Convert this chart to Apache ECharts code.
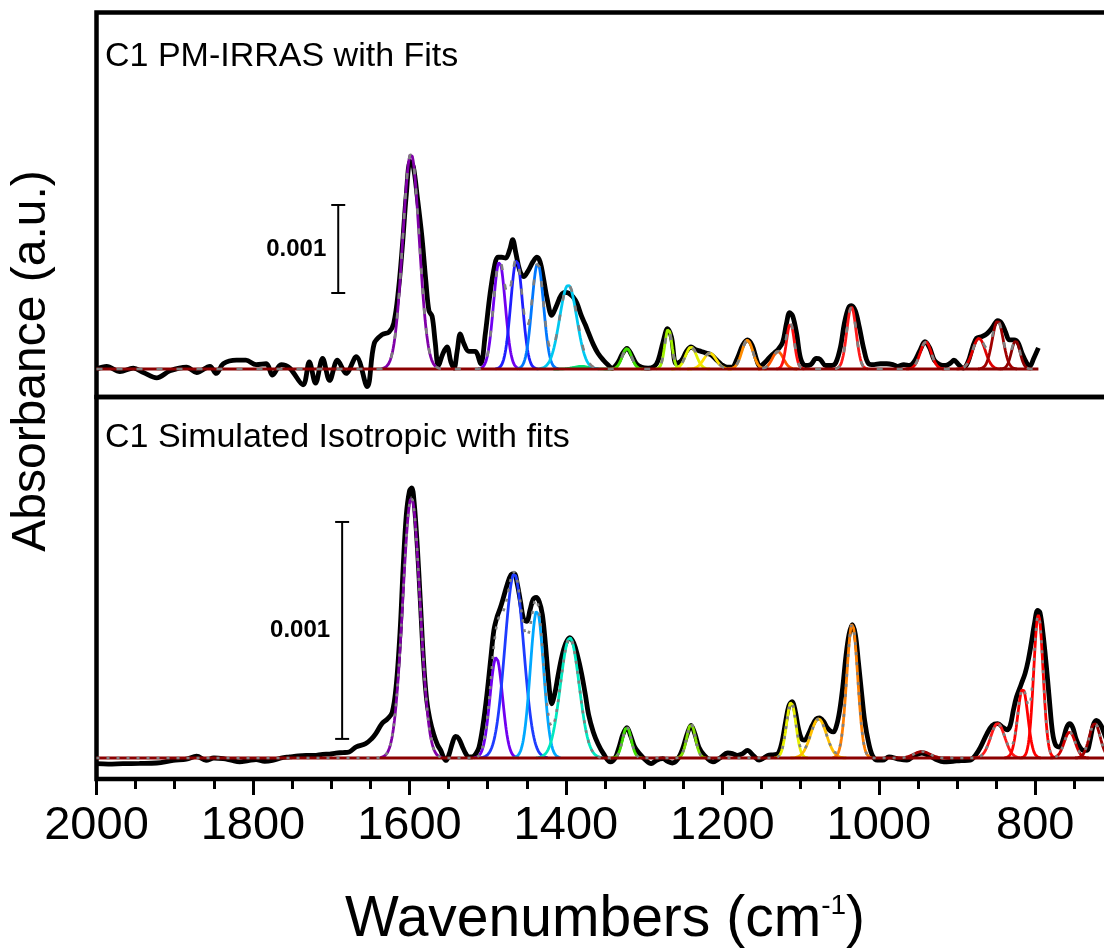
<!DOCTYPE html>
<html>
<head>
<meta charset="utf-8">
<script src="https://cdn.jsdelivr.net/npm/echarts@6/dist/echarts.min.js"></script>
<style>
html,body{margin:0;padding:0;background:#fff;}
#chart{width:1104px;height:949px;}
</style>
</head>
<body>
<div id="chart"></div>
<script>
// ---------------- DATA (absorbance in units of 0.001) ----------------
const panelTitles = ['C1 PM-IRRAS with Fits', 'C1 Simulated Isotropic with fits'];
const xAxisTitle = 'Wavenumbers (cm{sup|-1})';
const yAxisTitle = 'Absorbance (a.u.)';
const xTickValues = [2000, 1800, 1600, 1400, 1200, 1000, 800];
const xMinorTickValues = [1950,1900,1850,1750,1700,1650,1550,1500,1450,1350,1300,1250,1150,1100,1050,950,900,850,750];
const scaleBarLabel = '0.001';
const topScaleBar = [[1691, 0.864, 1.864]];
const bottomScaleBar = [[1686, 0.088, 1.088]];

// measured PM-IRRAS spectrum [wavenumber, absorbance]
const topSpectrum = [
[2000,0.00],[1987,0.03],[1970,-0.03],[1953,0.01],[1940,-0.04],[1923,-0.10],[1906,-0.02],[1885,0.02],[1872,-0.04],[1855,0.03],[1847,-0.05],[1838,0.06],[1821,0.10],[1809,0.10],[1796,0.05],[1783,0.06],[1775,-0.07],[1764,0.05],[1753,0.01],[1736,-0.18],[1728,0.08],[1720,-0.16],[1711,0.12],[1702,-0.13],[1692,0.10],[1681,-0.05],[1668,0.14],[1654,-0.20],[1645,0.29],[1635,0.39],[1626,0.42],[1620,0.52],[1614,0.90],[1609,1.40],[1604,1.98],[1599,2.36],[1595,2.30],[1590,1.96],[1584,1.50],[1579,1.00],[1575,0.66],[1571,0.60],[1567,0.30],[1563,0.04],[1557,0.18],[1552,0.25],[1547,0.08],[1543,0.01],[1539,0.20],[1535,0.40],[1530,0.28],[1524,0.20],[1516,0.20],[1509,0.06],[1503,0.40],[1497,0.85],[1491,1.18],[1487,1.27],[1482,1.27],[1477,1.26],[1472,1.35],[1468,1.47],[1464,1.32],[1459,1.12],[1454,1.05],[1448,1.12],[1442,1.22],[1437,1.27],[1433,1.22],[1429,1.05],[1424,0.80],[1418,0.61],[1412,0.72],[1406,0.84],[1401,0.87],[1396,0.86],[1391,0.82],[1386,0.75],[1380,0.60],[1375,0.50],[1371,0.41],[1365,0.28],[1359,0.18],[1352,0.10],[1346,0.045],[1341,0.01],[1333,0.08],[1328,0.17],[1322,0.235],[1316,0.16],[1310,0.06],[1303,0.02],[1295,0.01],[1287,0.03],[1282,0.10],[1276,0.30],[1270,0.46],[1265,0.36],[1259,0.06],[1252,0.10],[1246,0.20],[1240,0.25],[1234,0.22],[1227,0.20],[1220,0.18],[1214,0.16],[1207,0.10],[1201,0.05],[1194,0.02],[1188,0.02],[1181,0.12],[1174,0.27],[1168,0.33],[1162,0.27],[1156,0.10],[1152,0.03],[1146,0.07],[1140,0.13],[1134,0.18],[1129,0.22],[1123,0.30],[1118,0.52],[1114,0.64],[1110,0.60],[1105,0.40],[1100,0.12],[1094,0.04],[1087,0.05],[1080,0.12],[1075,0.11],[1068,0.04],[1060,0.04],[1055,0.07],[1049,0.25],[1044,0.52],[1039,0.69],[1035,0.72],[1030,0.66],[1025,0.48],[1019,0.22],[1013,0.06],[1006,0.05],[998,0.06],[990,0.06],[982,0.05],[976,0.03],[968,0.05],[961,0.04],[955,0.08],[948,0.20],[941,0.31],[935,0.24],[929,0.10],[922,0.05],[915,0.04],[908,0.07],[904,0.10],[898,0.05],[892,0.01],[886,0.08],[880,0.25],[875,0.35],[868,0.37],[862,0.40],[855,0.47],[848,0.55],[843,0.52],[838,0.42],[833,0.33],[827,0.33],[822,0.30],[817,0.18],[811,0.07],[807,0.03],[802,0.12],[796,0.24]
];
// simulated isotropic spectrum
const bottomSpectrum = [
[2000,-0.026],[1985,-0.028],[1966,-0.026],[1945,-0.025],[1923,-0.023],[1902,-0.011],[1885,-0.005],[1872,0.008],[1860,-0.011],[1850,0.0],[1838,-0.003],[1828,-0.01],[1817,-0.018],[1806,-0.012],[1796,-0.007],[1785,-0.015],[1775,-0.011],[1764,0.0],[1753,0.005],[1742,0.01],[1732,0.012],[1722,0.012],[1711,0.017],[1702,0.018],[1694,0.023],[1685,0.025],[1677,0.028],[1668,0.051],[1656,0.066],[1648,0.09],[1643,0.112],[1635,0.159],[1628,0.18],[1622,0.21],[1617,0.33],[1612,0.58],[1608,0.88],[1604,1.12],[1600,1.23],[1597,1.245],[1594,1.18],[1590,0.98],[1586,0.72],[1582,0.45],[1578,0.27],[1574,0.18],[1569,0.11],[1564,0.06],[1560,0.035],[1556,0.0],[1553,-0.011],[1549,0.02],[1545,0.07],[1541,0.10],[1537,0.09],[1532,0.05],[1528,0.02],[1524,0.005],[1520,0.005],[1515,0.02],[1511,0.05],[1506,0.15],[1501,0.29],[1496,0.46],[1492,0.59],[1488,0.65],[1484,0.69],[1479,0.75],[1475,0.80],[1470,0.845],[1466,0.85],[1462,0.80],[1458,0.72],[1454,0.64],[1450,0.63],[1446,0.68],[1442,0.73],[1438,0.74],[1434,0.72],[1430,0.66],[1426,0.52],[1422,0.35],[1418,0.25],[1414,0.30],[1410,0.38],[1405,0.47],[1400,0.53],[1395,0.555],[1390,0.53],[1385,0.47],[1380,0.39],[1375,0.29],[1371,0.20],[1365,0.12],[1359,0.066],[1352,0.02],[1343,-0.018],[1337,0.0],[1332,0.05],[1327,0.11],[1322,0.14],[1317,0.10],[1312,0.05],[1306,0.02],[1298,-0.01],[1291,-0.026],[1284,-0.01],[1276,-0.003],[1270,-0.015],[1264,-0.023],[1257,-0.005],[1251,0.04],[1245,0.11],[1240,0.15],[1235,0.11],[1230,0.05],[1223,0.012],[1212,-0.018],[1203,0.0],[1193,0.023],[1187,0.02],[1181,0.012],[1174,0.02],[1168,0.035],[1160,0.01],[1153,-0.01],[1147,0.0],[1142,0.012],[1135,0.015],[1129,0.02],[1124,0.07],[1119,0.17],[1115,0.24],[1111,0.26],[1107,0.22],[1103,0.14],[1099,0.09],[1095,0.082],[1090,0.11],[1085,0.15],[1080,0.18],[1076,0.185],[1071,0.17],[1066,0.14],[1062,0.125],[1058,0.12],[1054,0.15],[1050,0.22],[1046,0.33],[1042,0.47],[1038,0.57],[1034,0.615],[1030,0.57],[1026,0.44],[1022,0.30],[1018,0.17],[1013,0.07],[1008,0.01],[1002,-0.01],[995,-0.01],[987,0.005],[975,-0.005],[964,-0.01],[955,0.01],[945,0.023],[935,0.01],[925,-0.01],[917,-0.018],[905,-0.015],[895,-0.012],[883,-0.01],[876,0.015],[870,0.05],[862,0.11],[855,0.15],[848,0.158],[841,0.14],[836,0.13],[832,0.15],[828,0.22],[824,0.281],[818,0.34],[813,0.39],[809,0.45],[805,0.53],[801,0.62],[797,0.68],[794,0.67],[790,0.57],[786,0.43],[782,0.27],[778,0.12],[774,0.06],[769,0.05],[764,0.09],[760,0.14],[756,0.158],[752,0.14],[748,0.09],[743,0.05],[738,0.035],[734,0.035],[730,0.08],[726,0.15],[722,0.173],[716,0.15],[708,0.08],[700,0.05]
];

// fitted Gaussian components: centre, height, sigma
const topPeakCenters = [1598, 1380, 1485, 1463, 1436, 1397, 1322, 1269, 1240, 1216, 1168, 1129, 1113, 1035, 940, 872, 848, 825];
const topPeakHeights = [2.45, 0.03, 1.22, 1.24, 1.20, 0.955, 0.235, 0.46, 0.25, 0.18, 0.33, 0.20, 0.52, 0.705, 0.31, 0.35, 0.55, 0.32];
const topPeakSigmas  = [10.5, 10, 7.5, 7.5, 7.5, 11, 6, 4.5, 7, 8, 7, 7, 5, 6, 7, 8, 7, 5.5];
const topFitEnd = 796;

const bottomPeakCenters = [1597.5, 1489, 1466, 1437, 1395, 1322, 1240, 1112, 1077, 1034, 945, 848, 816, 796, 756, 724];
const bottomPeakHeights = [1.20, 0.465, 0.85, 0.68, 0.555, 0.143, 0.156, 0.258, 0.181, 0.619, 0.03, 0.16, 0.32, 0.66, 0.12, 0.16];
const bottomPeakSigmas  = [11, 8, 12, 8.5, 12, 5.5, 5.5, 6, 10, 7, 10, 9, 6.5, 6, 7, 7];
const bottomFitEnd = 700;

// ---------------- STYLE ----------------
const topPeakColors = ['#8000A8','#00E070','#7000F0','#1E1EFF','#0078FF','#00C8F0','#40E000','#A0F000','#E0F000','#FFE000','#FF8C00','#FF5A00','#FF1010','#FF1A1A','#F00000','#E00000','#A00000','#8C0000'];
const bottomPeakColors = ['#8000A8','#7000F0','#1E3CFF','#00A8FF','#00E8C0','#40E000','#80E000','#E8F000','#FFC000','#FF7F00','#A00000','#FF1A1A','#FF0000','#FF0000','#D00000','#A00000'];
const FONT = '"Liberation Sans", Arial, sans-serif';

function gaussPoints(c, h, s) {
  const pts = [];
  for (let x = c + 3.6 * s; x >= c - 3.6 * s; x -= 0.5) {
    pts.push([x, h * Math.exp(-((x - c) * (x - c)) / (2 * s * s))]);
  }
  return pts;
}
function fitSum(centers, heights, sigmas, xEnd) {
  const pts = [];
  for (let x = 2000; x >= xEnd; x -= 1) {
    let y = 0;
    for (let i = 0; i < centers.length; i++) {
      y += heights[i] * Math.exp(-((x - centers[i]) ** 2) / (2 * sigmas[i] ** 2));
    }
    pts.push([x, y]);
  }
  return pts;
}

function scaleBarRender(params, api) {
  const x = api.value(0);
  const p0 = api.coord([x, api.value(1)]);
  const p1 = api.coord([x, api.value(2)]);
  const st = { stroke: '#000', lineWidth: 2 };
  return {
    type: 'group',
    children: [
      { type: 'line', shape: { x1: p0[0], y1: p0[1], x2: p1[0], y2: p1[1] }, style: st },
      { type: 'line', shape: { x1: p0[0] - 7, y1: p0[1], x2: p0[0] + 7, y2: p0[1] }, style: st },
      { type: 'line', shape: { x1: p1[0] - 7, y1: p1[1], x2: p1[0] + 7, y2: p1[1] }, style: st },
      { type: 'text', style: { text: scaleBarLabel, x: p0[0] - 12, y: (p0[1] + p1[1]) / 2,
          align: 'right', verticalAlign: 'middle', fill: '#000',
          font: 'bold 24px "Liberation Sans", Arial, sans-serif' } }
    ]
  };
}

function panelSeries(idx, spectrum, centers, heights, sigmas, colors, fitEnd, bar, dash) {
  const s = [];
  s.push({ type: 'line', xAxisIndex: idx, yAxisIndex: idx, data: spectrum, showSymbol: false,
    smooth: 0.35, lineStyle: { color: '#000', width: 4.8 }, z: 2, silent: true });
  for (let i = 0; i < centers.length; i++) {
    s.push({ type: 'line', xAxisIndex: idx, yAxisIndex: idx, data: gaussPoints(centers[i], heights[i], sigmas[i]),
      showSymbol: false, lineStyle: { color: colors[i], width: 2.8 }, z: 3, silent: true });
  }
  s.push({ type: 'line', xAxisIndex: idx, yAxisIndex: idx, data: [[2000, 0], [fitEnd, 0]], showSymbol: false,
    lineStyle: { color: '#8B0000', width: 3.2 }, z: 4, silent: true });
  s.push({ type: 'line', xAxisIndex: idx, yAxisIndex: idx, data: fitSum(centers, heights, sigmas, fitEnd), showSymbol: false,
    lineStyle: { color: '#808080', width: 2.6, type: dash }, z: 5, silent: true });
  s.push({ type: 'custom', xAxisIndex: idx, yAxisIndex: idx, data: bar, renderItem: scaleBarRender, z: 6, silent: true });
  return s;
}

const chart = echarts.init(document.getElementById('chart'), null, { renderer: 'canvas' });
const gridBase = { left: 96.5, width: 1017, show: true, borderColor: '#000', borderWidth: 4.5,
  backgroundColor: 'transparent', containLabel: false, outerBoundsMode: 'none' };

const hiddenX = (g) => ({ type: 'value', gridIndex: g, min: 700, max: 2000, inverse: true, position: 'bottom',
  axisLine: { show: false, onZero: false }, axisTick: { show: false }, axisLabel: { show: false }, splitLine: { show: false } });

chart.setOption({
  animation: false,
  backgroundColor: '#fff',
  title: [
    { text: panelTitles[0], left: 105, top: 40, padding: 0,
      textStyle: { fontFamily: FONT, fontSize: 34, fontWeight: 'normal', color: '#000' } },
    { text: panelTitles[1], left: 105, top: 421, padding: 0,
      textStyle: { fontFamily: FONT, fontSize: 34, fontWeight: 'normal', color: '#000' } }
  ],
  grid: [
    Object.assign({ top: 12.5, height: 384.5 }, gridBase),
    Object.assign({ top: 397, height: 382 }, gridBase)
  ],
  xAxis: [
    hiddenX(0),
    { type: 'value', gridIndex: 1, min: 700, max: 2000, inverse: true, position: 'bottom',
      axisLine: { show: false, onZero: false },
      axisTick: { show: true, inside: false, customValues: xTickValues, length: 16, lineStyle: { color: '#000', width: 3 } },
      axisLabel: { show: true, customValues: xTickValues, margin: 24, fontFamily: FONT, fontSize: 47, color: '#000',
        formatter: (v) => String(v) },
      splitLine: { show: false },
      name: xAxisTitle, nameLocation: 'middle', nameGap: 113,
      nameTextStyle: { fontFamily: FONT, fontSize: 57, color: '#000',
        rich: { sup: { fontFamily: FONT, fontSize: 28, color: '#000', verticalAlign: 'top', lineHeight: 57 } } } },
    { type: 'value', gridIndex: 1, min: 700, max: 2000, inverse: true, position: 'bottom',
      axisLine: { show: false, onZero: false },
      axisTick: { show: true, inside: false, customValues: xMinorTickValues, length: 10, lineStyle: { color: '#000', width: 3 } },
      axisLabel: { show: false }, splitLine: { show: false } }
  ],
  yAxis: [
    { type: 'value', gridIndex: 0, min: -0.318, max: 4.051, show: false, splitLine: { show: false } },
    { type: 'value', gridIndex: 1, min: -0.0968, max: 1.664, show: false, splitLine: { show: false } }
  ],
  graphic: [
    { type: 'text', x: 32, y: 361, rotation: Math.PI / 2,
      style: { text: yAxisTitle, fill: '#000', font: '48px "Liberation Sans", Arial, sans-serif',
        align: 'center', verticalAlign: 'middle' } }
  ],
  series: [].concat(
    panelSeries(0, topSpectrum, topPeakCenters, topPeakHeights, topPeakSigmas, topPeakColors, topFitEnd, topScaleBar, [6, 14]),
    panelSeries(1, bottomSpectrum, bottomPeakCenters, bottomPeakHeights, bottomPeakSigmas, bottomPeakColors, bottomFitEnd, bottomScaleBar, [3, 7])
  )
});
</script>
</body>
</html>
